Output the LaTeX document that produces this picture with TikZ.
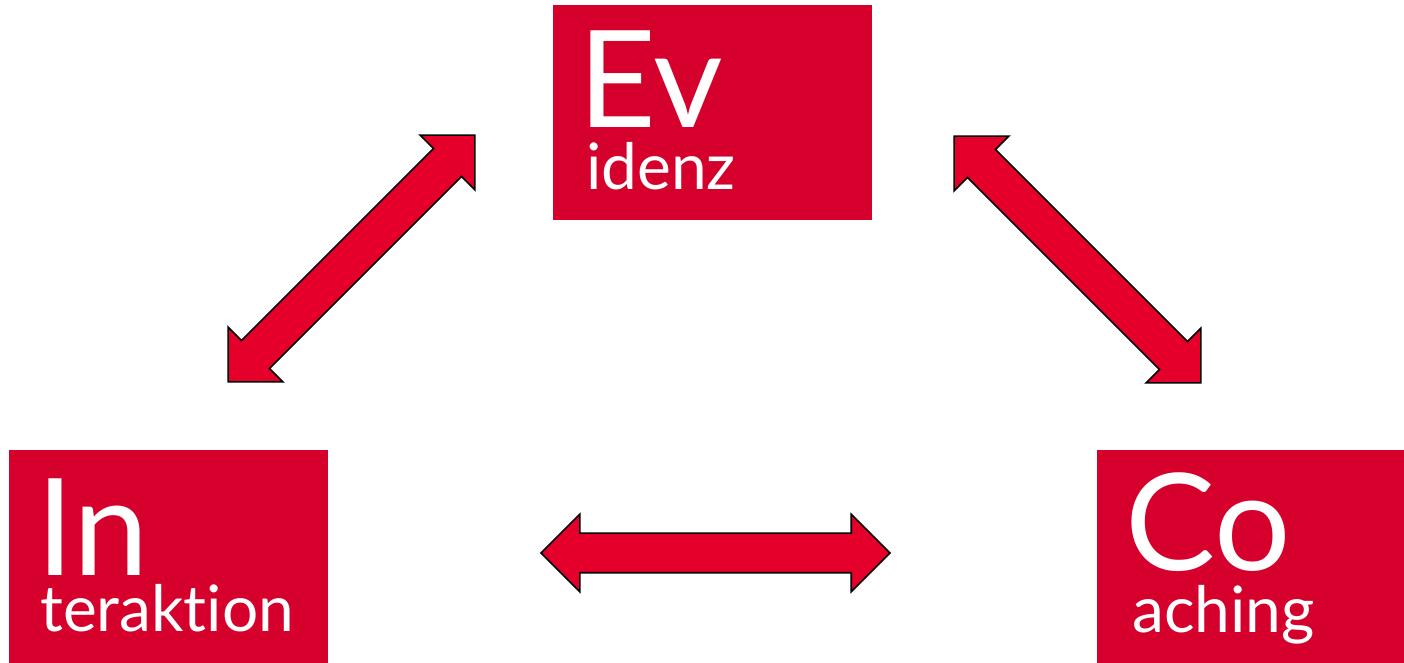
\documentclass[tikz,border=0pt]{standalone}
\usepackage{fontspec}
\setmainfont{Lato}[Ligatures={NoCommon}]
\usetikzlibrary{shapes.arrows}
\definecolor{boxred}{HTML}{D5002B}
\definecolor{arrowred}{HTML}{E4002B}
\begin{document}
\begin{tikzpicture}[x=1pt, y=1pt]
\tikzstyle{box} = [fill=boxred, minimum width=319pt, minimum height=215pt, inner sep=0pt, anchor=north west]
\tikzstyle{big} = [text=white, inner sep=0pt, anchor=base west, font=\fontsize{135}{135}\selectfont]
\tikzstyle{small} = [text=white, inner sep=0pt, anchor=base west, font=\fontsize{64}{64}\selectfont]
\tikzstyle{dbl} = [double arrow, draw=black, line width=1.6pt, fill=arrowred, inner xsep=0pt, inner ysep=19pt, double arrow head extend=19pt, double arrow tip angle=90, minimum height=349pt]

\useasboundingbox (0, 0) rectangle (1404, 663);

\node[box] (ev) at (553, 658) {};
\node[box] (in) at (9, 213) {};
\node[box] (co) at (1097, 213) {};

\node[big] (evA) at ([shift={(25, -123)}]ev.north west) {Ev};
\node[small] (evB) at ([shift={(33, -185)}]ev.north west) {idenz};
\node[big] (inA) at ([shift={(27, -126)}]in.north west) {In};
\node[small] (inB) at ([shift={(31, -182)}]in.north west) {teraktion};
\node[big] (coA) at ([shift={(28, -121)}]co.north west) {Co};
\node[small] (coB) at ([shift={(35, -183)}]co.north west) {aching};

\node[dbl, rotate=45] (ei) at (351.5, 404.5) {};
\node[dbl, rotate=-45] (ec) at (1077.5, 403.5) {};
\node[dbl] (ic) at (715.5, 110) {};
\end{tikzpicture}
\end{document}
